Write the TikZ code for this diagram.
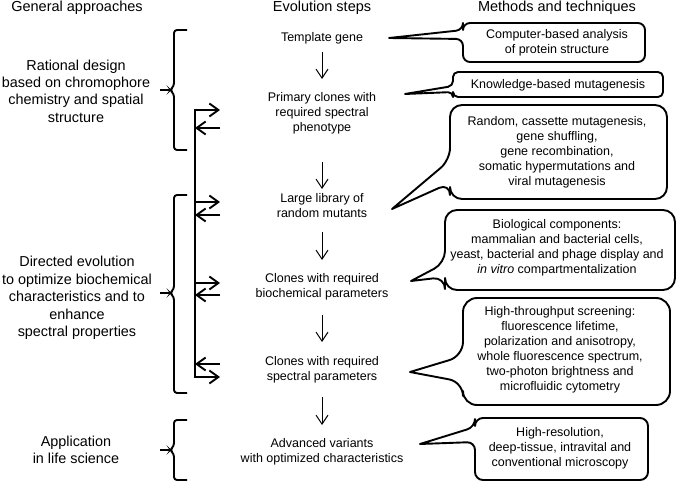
\documentclass[tikz,border=0pt]{standalone}
\usepackage{fontspec}
\setmainfont{Liberation Sans}
\usetikzlibrary{arrows.meta}
\tikzset{
  head/.style={anchor=base,font=\fontsize{14.5}{17.4}\selectfont},
  approach/.style={align=center,font=\fontsize{14.4}{17.4}\selectfont},
  stage/.style={align=center,font=\fontsize{12.5}{15}\selectfont},
  method/.style={align=center,font=\fontsize{12.5}{15}\selectfont},
  flow/.style={-{Straight Barb[length=9pt,width=12pt]},line width=1pt},
  feedback/.style={-{Straight Barb[length=9pt,width=13pt]},line width=1.9pt},
  bracket/.style={line width=1.9pt,rounded corners=3pt},
  callout/.style={line width=1.9pt,line join=round}
}
\begin{document}
\begin{tikzpicture}[x=1pt,y=-1pt]
  \useasboundingbox (0,0) rectangle (677,484);
  \draw
    (77,12) node[head] (h0) {General approaches}
    (322,12) node[head] (h1) {Evolution steps}
    (557,12) node[head] (h2) {Methods and techniques};
  \draw
    (76,91) node[approach] (g1) {Rational design\\based on chromophore\\chemistry and spatial\\structure}
    (77,298) node[approach] (g2) {Directed evolution\\to optimize biochemical\\characteristics and to\\enhance\\spectral properties}
    (76,450) node[approach] (g3) {Application\\in life science};
  \draw
    (322,38) node[stage] (s1) {Template gene}
    (322,113) node[stage] (s2) {Primary clones with\\required spectral\\phenotype}
    (322,206) node[stage] (s3) {Large library of\\random mutants}
    (322,287) node[stage] (s4) {Clones with required\\biochemical parameters}
    (322,370) node[stage] (s5) {Clones with required\\spectral parameters}
    (322,452) node[stage] (s6) {Advanced variants\\with optimized characteristics};
  \draw
    (557,43) node[method] (m1) {Computer-based analysis\\of protein structure}
    (558,85) node[method] (m2) {Knowledge-based mutagenesis}
    (557,152) node[method] (m3) {Random, cassette mutagenesis,\\gene shuffling,\\gene recombination,\\somatic hypermutations and\\viral mutagenesis}
    (557,248) node[method] (m4) {Biological components:\\mammalian and bacterial cells,\\yeast, bacterial and phage display and\\\textit{in vitro} compartmentalization}
    (560,350) node[method] (m5) {High-throughput screening:\\fluorescence lifetime,\\polarization and anisotropy,\\whole fluorescence spectrum,\\two-photon brightness and\\microfluidic cytometry}
    (560,448) node[method] (m6) {High-resolution,\\deep-tissue, intravital and\\conventional microscopy};
  \begin{scope}[flow]
    \draw[shorten <=14pt,shorten >=34pt] (s1.center) to (s2.center);
    \draw[shorten <=49pt,shorten >=17pt] (s2.center) to (s3.center);
    \draw[shorten <=26pt,shorten >=27pt] (s3.center) to (s4.center);
    \draw[shorten <=28pt,shorten >=28pt] (s4.center) to (s5.center);
    \draw[shorten <=27pt,shorten >=27pt] (s5.center) to (s6.center);
  \end{scope}
  \draw[bracket] (187,30) -- (174,30) -- (174,86) -- (170,90) -- (174,94) -- (174,150) -- (187,150);
  \draw[bracket] (160,90) -- (170,90);
  \draw[bracket] (187,195) -- (174,195) -- (174,289) -- (170,293) -- (174,297) -- (174,393) -- (187,393);
  \draw[bracket] (160,293) -- (170,293);
  \draw[bracket] (187,420) -- (174,420) -- (174,446) -- (170,450) -- (174,454) -- (174,480) -- (187,480);
  \draw[bracket] (160,450) -- (170,450);
  \foreach \y in {110,128,202,215,283,295,364,377}
    \path (195,\y) coordinate (a\y) (220,\y) coordinate (b\y);
  \draw[line width=1.9pt,line cap=rect] (a110) -- (a377);
  \foreach \y in {110,202,283,377} \draw[feedback] (a\y) -- (b\y);
  \foreach \y in {128,215,295,364} \draw[feedback] (b\y) -- (a\y);
  \path (389,38) coordinate (t1) (405,94) coordinate (t2) (392,209) coordinate (t3)
    (411,281) coordinate (t4) (410,372) coordinate (t5) (420,444) coordinate (t6);
  \draw[callout] (t1) [rounded corners=7pt] -- (463,30) -- (463,23) -- (645,23) -- (645,62) -- (463,62) -- (463,39) [sharp corners] -- cycle;
  \draw[callout] (t2) [rounded corners=5pt] -- (453,86) -- (453,72) -- (663,72) -- (663,97) -- (453,97) -- (453,92) [sharp corners] -- cycle;
  \draw[callout] (t3) [rounded corners=12pt] -- (450,160) -- (450,105) -- (667,105) -- (667,199) -- (450,199) -- (450,183) [sharp corners] -- cycle;
  \draw[callout] (t4) [rounded corners=12pt] -- (445,263) -- (445,210) -- (675,210) -- (675,290) -- (445,290) -- (445,277) [sharp corners] -- cycle;
  \draw[callout] (t5) [rounded corners=14pt] -- (463,356) -- (463,298) -- (670,298) -- (670,405) -- (463,405) -- (463,382) [sharp corners] -- cycle;
  \draw[callout] (t6) [rounded corners=8pt] -- (475,427) -- (475,418) -- (648,418) -- (648,480) -- (475,480) -- (475,442) [sharp corners] -- cycle;
\end{tikzpicture}
\end{document}
